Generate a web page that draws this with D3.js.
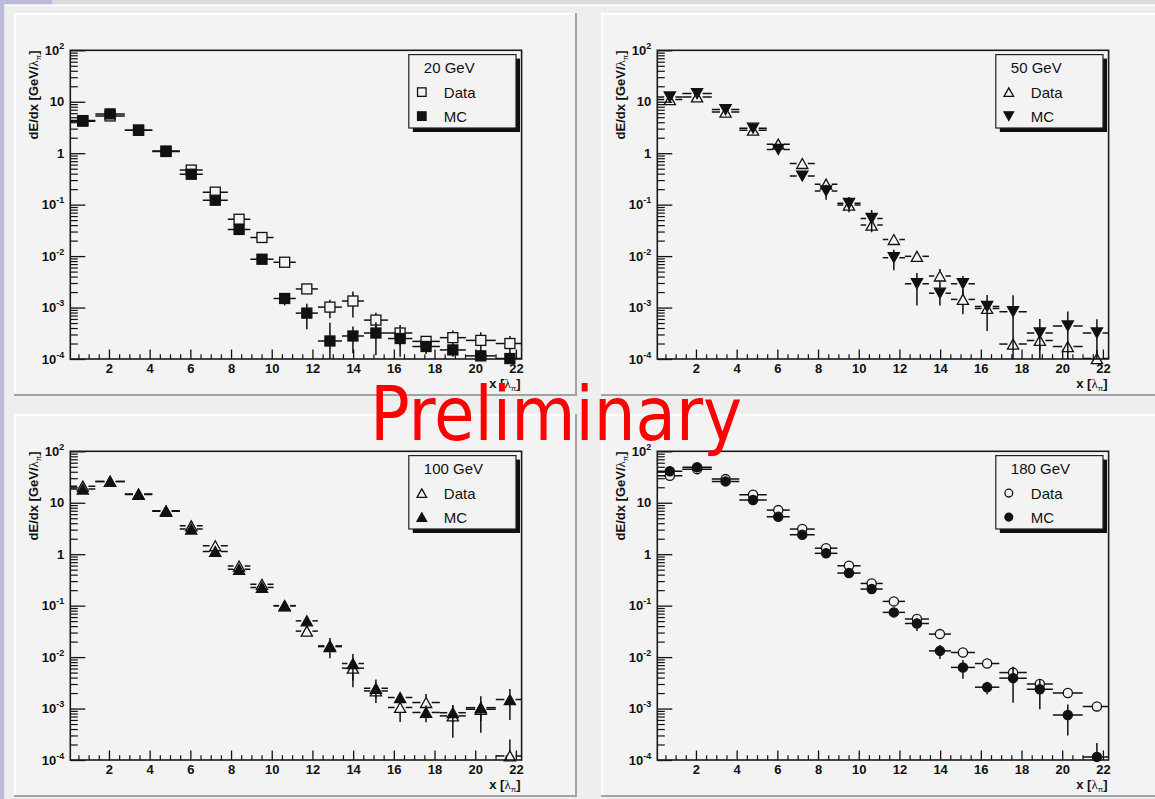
<!DOCTYPE html>
<html>
<head>
<meta charset="utf-8">
<script src="https://cdn.jsdelivr.net/npm/d3@7"></script>
<style>
  html, body { margin: 0; padding: 0; background: #eeeeee; }
  svg { display: block; }
</style>
</head>
<body>
<svg id="canvas" width="1155" height="799"></svg>
<script>
// Longitudinal shower profiles: bin edges along depth in interaction lengths
const binEdges = [0.1, 1.33, 2.78, 4.13, 5.48, 6.61, 7.84, 8.95, 10.09, 11.18, 12.27,
                  13.45, 14.53, 15.71, 16.91, 18.26, 19.54, 21.01, 22.4];

const energies = ["20 GeV", "50 GeV", "100 GeV", "180 GeV"];
const seriesNames = ["Data", "MC"];

// 20 GeV
const data20    = [4.3, 5.3, 2.8, 1.1, 0.47, 0.175, 0.052, 0.023, 0.0076, 0.0023, 0.00102, 0.00134, 0.00057, 0.00032, 0.00022, 0.00026, 0.00023, 0.0002];
const data20Err = [0.05, 0.05, 0.03, 0.01, 0.005, 0.002, 0.001, 0.0005, 0.0003, 0.0003, 0.0004, 0.0007, 0.00022, 0.00014, 0.00004, 0.0001, 0.0001, 0.00008];
const mc20      = [4.2, 5.8, 2.8, 1.08, 0.39, 0.122, 0.033, 0.0087, 0.0015, 0.00078, 0.000224, 0.00028, 0.00032, 0.00025, 0.000175, 0.00015, 0.000115, 0.000102];
const mc20Err   = [0.05, 0.06, 0.03, 0.01, 0.005, 0.002, 0.0008, 0.0012, 0.0004, 0.0004, 0.00028, 0.00015, 0.0002, 0.00014, 0.00005, 0.00004, 0.00003, 0.00003];

// 50 GeV
const data50    = [11, 12.4, 6.3, 2.8, 1.5, 0.63, 0.25, 0.098, 0.04, 0.021, 0.0099, 0.0041, 0.00144, 0.00096, 0.000195, 0.00023, 0.000174, 0.000102];
const data50Err = [0.1, 0.1, 0.05, 0.03, 0.02, 0.01, 0.005, 0.003, 0.002, 0.001, 0.0006, 0.0015, 0.0007, 0.0001, 0.00004, 0.00008, 0.00004, 0.00005];
const mc50      = [12.4, 14.4, 7.05, 3.06, 1.18, 0.36, 0.185, 0.106, 0.054, 0.0093, 0.0029, 0.0019, 0.0029, 0.00105, 0.00083, 0.00032, 0.00044, 0.00032];
const mc50Err   = [0.12, 0.12, 0.06, 0.03, 0.12, 0.03, 0.06, 0.035, 0.025, 0.004, 0.0018, 0.0008, 0.0012, 0.0007, 0.0009, 0.00028, 0.0004, 0.00027];

// 100 GeV
const data100    = [21, 26, 14.5, 7, 3.56, 1.46, 0.59, 0.26, 0.1, 0.032, 0.016, 0.0061, 0.0022, 0.00105, 0.00131, 0.00072, 0.00097, 0.00012];
const data100Err = [0.2, 0.2, 0.1, 0.06, 0.04, 0.02, 0.01, 0.005, 0.003, 0.003, 0.002, 0.0035, 0.0006, 0.0005, 0.0006, 0.00045, 0.0004, 0.00013];
const mc100      = [18.5, 26, 14.8, 6.8, 3.08, 1.13, 0.51, 0.226, 0.099, 0.0506, 0.0165, 0.0075, 0.00248, 0.00164, 0.00084, 0.00083, 0.00104, 0.0015];
const mc100Err   = [0.2, 0.25, 0.15, 0.07, 0.05, 0.03, 0.02, 0.01, 0.005, 0.008, 0.007, 0.004, 0.0012, 0.0004, 0.0003, 0.0003, 0.0007, 0.0009];

// 180 GeV
const data180    = [33.5, 45, 28.8, 14.3, 7.2, 3.08, 1.31, 0.595, 0.27, 0.121, 0.055, 0.028, 0.0123, 0.0075, 0.005, 0.003, 0.002, 0.0011];
const data180Err = [0.3, 0.3, 0.2, 0.1, 0.05, 0.02, 0.01, 0.005, 0.003, 0.002, 0.001, 0.0006, 0.0004, 0.0004, 0.0004, 0.0003, 0.0002, 0.00015];
const mc180      = [40.8, 48.9, 26, 11.3, 5.34, 2.39, 1.04, 0.43, 0.21, 0.074, 0.045, 0.0132, 0.0063, 0.0026, 0.0039, 0.00237, 0.00075, 0.000115];
const mc180Err   = [0.4, 0.4, 0.25, 0.12, 0.06, 0.03, 0.015, 0.01, 0.006, 0.006, 0.013, 0.004, 0.0025, 0.0007, 0.0026, 0.0014, 0.00045, 0.0001];

// axis ticks
const xTicks = [2, 4, 6, 8, 10, 12, 14, 16, 18, 20, 22];
const yTicks = [1e-4, 1e-3, 1e-2, 1e-1, 1, 10, 100];
const yTickExponents = [-4, -3, -2, -1, 0, 1, 2];
const xDomain = [0.1, 22.28];
const yDomain = [1e-4, 1e2];

const panels = [
  { label: energies[0], data: data20,  dataErr: data20Err,  mc: mc20,  mcErr: mc20Err,  dataShape: "square",   mcShape: "square" },
  { label: energies[1], data: data50,  dataErr: data50Err,  mc: mc50,  mcErr: mc50Err,  dataShape: "triUp",    mcShape: "triDown" },
  { label: energies[2], data: data100, dataErr: data100Err, mc: mc100, mcErr: mc100Err, dataShape: "triUp",    mcShape: "triUp" },
  { label: energies[3], data: data180, dataErr: data180Err, mc: mc180, mcErr: mc180Err, dataShape: "circle",   mcShape: "circle" }
];

const pads = [
  { x: 14,  y: 13,  w: 563, h: 383 },
  { x: 601, y: 13,  w: 560, h: 383 },
  { x: 14,  y: 414, w: 563, h: 383 },
  { x: 601, y: 414, w: 560, h: 383 }
];

const FONT = "'Liberation Sans', Arial, Helvetica, sans-serif";
const PAD_BG = "#f3f3f3";
const INK = "#111";

const svg = d3.select("#canvas");

// window chrome around the pads
svg.append("rect").attr("x", 0).attr("y", 0).attr("width", 1155).attr("height", 799).attr("fill", "#eeeeee");
svg.append("rect").attr("x", 0).attr("y", 0).attr("width", 1155).attr("height", 4.5).attr("fill", "#dadada");
svg.append("rect").attr("x", 0).attr("y", 0).attr("width", 52).attr("height", 4.5).attr("fill", "#b9bcdc");
svg.append("rect").attr("x", 4).attr("y", 4.5).attr("width", 1151).attr("height", 1.6).attr("fill", "#ffffff");
svg.append("rect").attr("x", 0).attr("y", 0).attr("width", 4.2).attr("height", 799).attr("fill", "#b9bcdc");

const shapeSize = { square: [5, 5], triUp: [5.6, 5], triDown: [5.6, 5], circle: [4.8, 4.8] };

function drawMarker(g, shape, filled, cx, cy, scale = 1) {
  const fill = filled ? INK : "none";
  const sw = 1.3;
  if (shape === "square") {
    const s = 5 * scale;
    g.append("rect").attr("x", cx - s).attr("y", cy - s).attr("width", 2 * s).attr("height", 2 * s)
      .attr("fill", fill).attr("stroke", INK).attr("stroke-width", sw);
  } else if (shape === "triUp" || shape === "triDown") {
    const w = 5.6 * scale, h = 5 * scale, k = shape === "triUp" ? 1 : -1;
    g.append("path")
      .attr("d", `M${cx - w},${cy + k * h}L${cx + w},${cy + k * h}L${cx},${cy - k * h}Z`)
      .attr("fill", fill).attr("stroke", INK).attr("stroke-width", sw).attr("stroke-linejoin", "miter");
  } else {
    g.append("circle").attr("cx", cx).attr("cy", cy).attr("r", 4.6 * scale)
      .attr("fill", fill).attr("stroke", INK).attr("stroke-width", sw);
  }
}

function supLabel(sel, exp) {
  sel.text(null);
  if (exp === 0) { sel.append("tspan").text("1"); return; }
  sel.append("tspan").text("10");
  if (exp !== 1) {
    sel.append("tspan").attr("font-size", 9).attr("dy", -6).text(String(exp));
  }
}

panels.forEach((p, i) => {
  const pad = pads[i];
  const g = svg.append("g");

  // pad with raised border
  g.append("rect").attr("x", pad.x).attr("y", pad.y).attr("width", pad.w).attr("height", pad.h).attr("fill", PAD_BG);
  g.append("line").attr("x1", pad.x).attr("x2", pad.x + pad.w).attr("y1", pad.y + 1).attr("y2", pad.y + 1)
    .attr("stroke", "#ffffff").attr("stroke-width", 2);
  g.append("line").attr("x1", pad.x + 1).attr("x2", pad.x + 1).attr("y1", pad.y).attr("y2", pad.y + pad.h)
    .attr("stroke", "#ffffff").attr("stroke-width", 2);
  g.append("line").attr("x1", pad.x).attr("x2", pad.x + pad.w).attr("y1", pad.y + pad.h - 1).attr("y2", pad.y + pad.h - 1)
    .attr("stroke", "#a3a3a3").attr("stroke-width", 2);
  g.append("line").attr("x1", pad.x + pad.w - 1).attr("x2", pad.x + pad.w - 1).attr("y1", pad.y).attr("y2", pad.y + pad.h)
    .attr("stroke", "#a3a3a3").attr("stroke-width", 2);

  const fl = pad.x + 56.3, fr = pad.x + 507.6, ft = pad.y + 37.3, fb = pad.y + 346;
  const x = d3.scaleLinear().domain(xDomain).range([fl, fr]);
  const y = d3.scaleLog().domain(yDomain).range([fb, ft]);

  const clipId = "frame" + i;
  g.append("clipPath").attr("id", clipId).append("rect")
    .attr("x", fl).attr("y", ft).attr("width", fr - fl).attr("height", fb - ft);

  // minor ticks
  const xMinor = d3.range(0.5, 22.3, 0.5).filter(v => v % 2 !== 0);
  g.append("g").attr("transform", `translate(0,${fb})`)
    .call(d3.axisBottom(x).tickValues(xMinor).tickSize(-4.8).tickFormat(() => ""))
    .call(a => a.select(".domain").remove())
    .call(a => a.selectAll("line").attr("stroke", INK).attr("stroke-width", 1.2));
  const yMinor = [];
  for (let e = -4; e < 2; e++) for (let m = 2; m <= 9; m++) yMinor.push(m * Math.pow(10, e));
  g.append("g").attr("transform", `translate(${fl},0)`)
    .call(d3.axisLeft(y).tickValues(yMinor).tickSize(-7.5).tickFormat(() => ""))
    .call(a => a.select(".domain").remove())
    .call(a => a.selectAll("line").attr("stroke", INK).attr("stroke-width", 1.2));

  // major ticks and labels
  g.append("g").attr("transform", `translate(0,${fb})`)
    .call(d3.axisBottom(x).tickValues(xTicks).tickSize(-9.5).tickPadding(4.8).tickFormat(d3.format("d")))
    .call(a => a.select(".domain").remove())
    .call(a => a.selectAll("line").attr("stroke", INK).attr("stroke-width", 1.3))
    .call(a => a.selectAll("text").attr("fill", INK).attr("font-family", FONT)
      .attr("font-size", 13).attr("font-weight", "bold"));
  g.append("g").attr("transform", `translate(${fl},0)`)
    .call(d3.axisLeft(y).tickValues(yTicks).tickSize(-15).tickPadding(6))
    .call(a => a.select(".domain").remove())
    .call(a => a.selectAll("line").attr("stroke", INK).attr("stroke-width", 1.3))
    .call(a => a.selectAll("text").attr("fill", INK).attr("font-family", FONT)
      .attr("font-size", 13).attr("font-weight", "bold")
      .each(function (d) { supLabel(d3.select(this), yTickExponents[yTicks.indexOf(d)]); }));

  // frame
  g.append("rect").attr("x", fl).attr("y", ft).attr("width", fr - fl).attr("height", fb - ft)
    .attr("fill", "none").attr("stroke", "#1a1a1a").attr("stroke-width", 1.6);

  // axis titles
  const yt = g.append("text").attr("transform", `translate(${fl - 32},${ft}) rotate(-90)`)
    .attr("text-anchor", "end").attr("font-family", FONT).attr("font-size", 13).attr("font-weight", "bold").attr("fill", INK);
  yt.append("tspan").text("dE/dx [GeV/");
  yt.append("tspan").attr("font-weight", "normal").attr("font-family", "'Liberation Serif', serif").text("λ");
  yt.append("tspan").attr("font-weight", "normal").attr("font-size", 8).attr("dy", 3).text("π");
  yt.append("tspan").attr("dy", -3).text("]");

  const xt = g.append("text").attr("x", fr - 1).attr("y", fb + 29)
    .attr("text-anchor", "end").attr("font-family", FONT).attr("font-size", 13).attr("font-weight", "bold").attr("fill", INK);
  xt.append("tspan").text("x [");
  xt.append("tspan").attr("font-weight", "normal").attr("font-family", "'Liberation Serif', serif").text("λ");
  xt.append("tspan").attr("font-weight", "normal").attr("font-size", 8).attr("dy", 3).text("π");
  xt.append("tspan").attr("dy", -3).text("]");

  // error bars + markers
  const drawSeries = (vals, errs, shape, filled) => {
    const bars = g.append("g").attr("clip-path", `url(#${clipId})`)
      .attr("stroke", INK).attr("stroke-width", 1.5);
    const [hw, hh] = shapeSize[shape];
    vals.forEach((v, j) => {
      const xc = x((binEdges[j] + binEdges[j + 1]) / 2);
      const yc = y(v);
      const x0 = x(binEdges[j]), x1 = x(binEdges[j + 1]);
      const up = y(v + errs[j]);
      const lowVal = v - errs[j];
      const lo = lowVal > 0 ? Math.min(y(lowVal), fb + 5) : fb + 5;
      if (x0 < xc - hw) bars.append("line").attr("x1", x0).attr("x2", xc - hw).attr("y1", yc).attr("y2", yc);
      if (x1 > xc + hw) bars.append("line").attr("x1", xc + hw).attr("x2", x1).attr("y1", yc).attr("y2", yc);
      if (up < yc - hh) bars.append("line").attr("x1", xc).attr("x2", xc).attr("y1", up).attr("y2", yc - hh);
      if (lo > yc + hh) bars.append("line").attr("x1", xc).attr("x2", xc).attr("y1", yc + hh).attr("y2", lo);
    });
    const mk = g.append("g");
    vals.forEach((v, j) => {
      drawMarker(mk, shape, filled, x((binEdges[j] + binEdges[j + 1]) / 2), y(v));
    });
  };
  drawSeries(p.data, p.dataErr, p.dataShape, false);
  drawSeries(p.mc, p.mcErr, p.mcShape, true);

  // legend
  const lx = fr - 112.8, ly = ft + 4.3, lw = 107.2, lh = 73.4;
  g.append("rect").attr("x", lx + 4).attr("y", ly + 4).attr("width", lw).attr("height", lh).attr("fill", INK);
  g.append("rect").attr("x", lx).attr("y", ly).attr("width", lw).attr("height", lh)
    .attr("fill", PAD_BG).attr("stroke", "#222").attr("stroke-width", 1.2);
  g.append("text").attr("x", lx + 15).attr("y", ly + 18.5).attr("font-family", FONT).attr("font-size", 15)
    .attr("fill", INK).text(p.label);
  drawMarker(g, p.dataShape, false, lx + 13, ly + 37.5, 0.85);
  drawMarker(g, p.mcShape, true, lx + 13, ly + 61.5, 0.85);
  g.append("text").attr("x", lx + 35).attr("y", ly + 43).attr("font-family", FONT).attr("font-size", 15)
    .attr("fill", INK).text(seriesNames[0]);
  g.append("text").attr("x", lx + 35).attr("y", ly + 67).attr("font-family", FONT).attr("font-size", 15)
    .attr("fill", INK).text(seriesNames[1]);
});

// overlay stamp across the canvas
svg.append("text").attr("x", 370).attr("y", 440)
  .attr("font-family", "'DejaVu Sans Condensed', 'DejaVu Sans', sans-serif")
  .attr("font-stretch", "condensed")
  .attr("font-size", 74).attr("fill", "#ff0000")
  .attr("textLength", 372).attr("lengthAdjust", "spacingAndGlyphs")
  .text("Preliminary");
</script>
</body>
</html>
